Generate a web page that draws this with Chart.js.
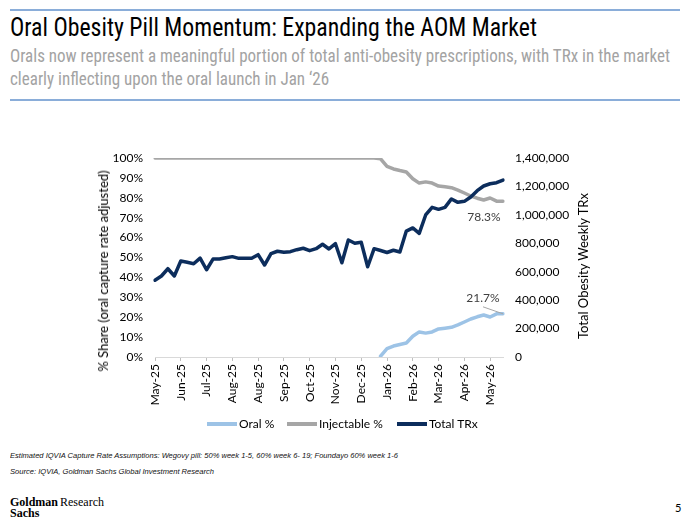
<!DOCTYPE html>
<html><head><meta charset="utf-8">
<script src="https://cdn.jsdelivr.net/npm/chart.js@4.4.1/dist/chart.umd.min.js"></script>
<style>
html,body{margin:0;padding:0;background:#fff;}
body{width:690px;height:531px;position:relative;overflow:hidden;font-family:Lato,"Liberation Sans",sans-serif;}
.rule{position:absolute;left:10px;width:670px;height:2px;background:#8AADD9;}
.fit{position:absolute;left:10px;white-space:nowrap;transform-origin:0 0;display:inline-block;}
#title{top:13px;font-family:"Liberation Sans Narrow","Roboto Condensed",Roboto,sans-serif;font-size:25px;line-height:30px;color:#000;}
.sub{font-family:"Liberation Sans Narrow","Roboto Condensed",Roboto,sans-serif;font-size:19px;line-height:22px;color:#A3A3A3;}
#sub1{top:45px;}
#sub2{top:67.5px;}
.note{font-family:"Liberation Sans",Arial,sans-serif;font-style:italic;font-size:8px;line-height:10px;color:#111;}
#note1{top:451px;}
#note2{top:467px;}
#wrap{position:absolute;left:0;top:130px;width:690px;height:300px;}
.axt{position:absolute;white-space:nowrap;font-size:13px;color:#000;transform:translate(-50%,-50%) rotate(-90deg);}
#legend{position:absolute;top:416px;left:0;width:690px;height:16px;}
.li{position:absolute;top:0;height:16px;font-size:12px;line-height:16px;color:#000;white-space:nowrap;}
.sw{position:absolute;top:6px;height:4px;width:30px;}
.logo{position:absolute;font-family:"Liberation Serif","DejaVu Serif",serif;color:#000;line-height:11px;}
</style>
</head><body>
<div class="rule" style="top:9px"></div>
<div id="title" class="fit">Oral Obesity Pill Momentum: Expanding the AOM Market</div>
<div id="sub1" class="fit sub">Orals now represent a meaningful portion of total anti-obesity prescriptions, with TRx in the market</div>
<div id="sub2" class="fit sub">clearly inflecting upon the oral launch in Jan ‘26</div>
<div class="rule" style="top:99px"></div>

<div id="wrap"><canvas id="c" width="690" height="300" style="width:690px;height:300px"></canvas></div>
<div class="axt" style="left:103px;top:271px">% Share (oral capture rate adjusted)</div>
<div class="axt" style="left:583px;top:266px">Total Obesity Weekly TRx</div>
<div id="legend"></div>

<div id="note1" class="fit note">Estimated IQVIA Capture Rate Assumptions: Wegovy pill: 50% week 1-5, 60% week 6- 19; Foundayo 60% week 1-6</div>
<div id="note2" class="fit note">Source: IQVIA, Goldman Sachs Global Investment Research</div>

<div class="logo" style="left:10px;top:497px;font-weight:bold;font-size:12px;">Goldman<br>Sachs</div>
<div class="logo" style="left:60px;top:497px;font-size:12px;">Research</div>
<div style="position:absolute;left:675px;top:501px;font-size:11px;color:#000;">5</div>

<script>
// ---- data ----
const monthTicks = ['May-25','Jun-25','Jul-25','Aug-25','Aug-25','Sep-25','Oct-25','Nov-25','Dec-25','Jan-26','Feb-26','Mar-26','Apr-26','May-26'];
const TICK_EVERY = 4; // one month label every 4 weekly points

const totalTRx = [
 540000,570000,621000,570000,675000,666000,656000,696000,614000,689000,
 689000,698000,706000,694000,694000,694000,720000,647000,727000,744000,
 737000,741000,755000,765000,748000,762000,793000,760000,797000,663000,
 823000,800000,807000,635000,762000,749000,735000,751000,739000,886000,
 908000,870000,999000,1053000,1039000,1053000,1112000,1088000,1095000,1126000,
 1170000,1203000,1219000,1226000,1245000];

const injectablePct = [
 100,100,100,100,100,100,100,100,100,100,
 100,100,100,100,100,100,100,100,100,100,
 100,100,100,100,100,100,100,100,100,100,
 100,100,100,100,100,99.6,95.8,94.5,93.7,93.0,
 89.6,87.4,88.0,87.4,85.9,85.5,85.1,83.9,82.4,80.9,
 79.8,78.9,79.9,78.3,78.3];

const oralPct = [
 null,null,null,null,null,null,null,null,null,null,
 null,null,null,null,null,null,null,null,null,null,
 null,null,null,null,null,null,null,null,null,null,
 null,null,null,null,null,0.4,4.2,5.5,6.3,7.0,
 10.4,12.6,12.0,12.6,14.1,14.5,14.9,16.1,17.6,19.1,
 20.2,21.1,20.1,21.7,21.7];

const weekLabels = totalTRx.map((_, i) => i % TICK_EVERY === 0 ? monthTicks[i / TICK_EVERY] : '');

const COLORS = {oral:'#9DC3E6', inj:'#A6A6A6', trx:'#0C2D5C'};

// ---- text fitting ----
function fit(id, w){ const el=document.getElementById(id); const nw=el.getBoundingClientRect().width; const k=w/nw; el.style.transform='scaleX('+k+')'; return k; }
function scaleBy(id,k){ document.getElementById(id).style.transform='scaleX('+k+')'; }
fit('title', 527);
const ks = fit('sub1', 660); scaleBy('sub2', ks);
fit('note1', 388); fit('note2', 204);

// ---- end labels plugin ----
const endLabels = {
  id:'endLabels',
  afterDatasetsDraw(chart){
    const ctx = chart.ctx; ctx.save();
    ctx.font = '12px Lato'; ctx.fillStyle = '#404040'; ctx.textAlign='center'; ctx.textBaseline='middle';
    const mi = chart.getDatasetMeta(1), pi = mi.data[mi.data.length-1];
    ctx.fillText(injectablePct[injectablePct.length-1].toFixed(1)+'%', pi.x-19, pi.y+16);
    const mo = chart.getDatasetMeta(0), po = mo.data[mo.data.length-1];
    ctx.fillText(oralPct[oralPct.length-1].toFixed(1)+'%', po.x-20, po.y-16);
    ctx.strokeStyle='#A6A6A6'; ctx.lineWidth=1; ctx.beginPath(); ctx.moveTo(po.x-20, po.y-7); ctx.lineTo(po.x, po.y); ctx.stroke();
    ctx.restore();
  }
};

const tickFont = {family:'Lato', size:12};
const chart = new Chart(document.getElementById('c'), {
  type:'line',
  data:{
    labels: weekLabels,
    datasets:[
      {label:'Oral %', data:oralPct, yAxisID:'y', borderColor:COLORS.oral, backgroundColor:COLORS.oral, borderWidth:3.5, pointRadius:0, order:3, spanGaps:false},
      {label:'Injectable %', data:injectablePct, yAxisID:'y', borderColor:COLORS.inj, backgroundColor:COLORS.inj, borderWidth:3.5, pointRadius:0, order:2},
      {label:'Total TRx', data:totalTRx, yAxisID:'y2', borderColor:COLORS.trx, backgroundColor:COLORS.trx, borderWidth:3.5, pointRadius:0, order:1}
    ]
  },
  options:{
    responsive:false, animation:false, devicePixelRatio:1,
    layout:{padding:{top:28,left:0,right:0,bottom:0}},
    elements:{line:{tension:0, borderJoinStyle:'round', borderCapStyle:'round'}},
    plugins:{legend:{display:false}, tooltip:{enabled:false}},
    scales:{
      x:{
        offset:false,
        afterFit(s){ s.height = 73; },
        grid:{display:true, drawOnChartArea:false, drawTicks:true, tickLength:4,
              color: c => (c.index % TICK_EVERY === 0) ? '#BFBFBF' : 'rgba(0,0,0,0)'},
        border:{display:true, color:'#D9D9D9', width:1},
        ticks:{autoSkip:false, maxRotation:90, minRotation:90, padding:3, color:'#000', font:tickFont,
               callback:(v,i)=>weekLabels[i]}
      },
      y:{
        position:'left', min:0, max:100,
        afterFit(s){ s.width = 155; },
        grid:{display:false, drawTicks:false}, border:{display:false},
        ticks:{stepSize:10, padding:12, color:'#000', font:tickFont, callback:v=>v+'%'}
      },
      y2:{
        position:'right', min:0, max:1400000,
        afterFit(s){ s.width = 187; },
        grid:{display:false, drawTicks:false}, border:{display:false},
        ticks:{stepSize:200000, padding:12, color:'#000', font:tickFont, callback:v=>v.toLocaleString('en-US')}
      }
    }
  },
  plugins:[endLabels]
});

// ---- legend (HTML) ----
const legendPos = [207, 287, 397];
const lg = document.getElementById('legend');
chart.data.datasets.forEach((d, i) => {
  const item = document.createElement('div'); item.className='li'; item.style.left = legendPos[i]+'px';
  const sw = document.createElement('span'); sw.className='sw'; sw.style.left='0px'; sw.style.background=d.borderColor;
  const tx = document.createElement('span'); tx.textContent=d.label; tx.style.marginLeft='32px';
  item.appendChild(sw); item.appendChild(tx); lg.appendChild(item);
});
</script>
</body></html>
